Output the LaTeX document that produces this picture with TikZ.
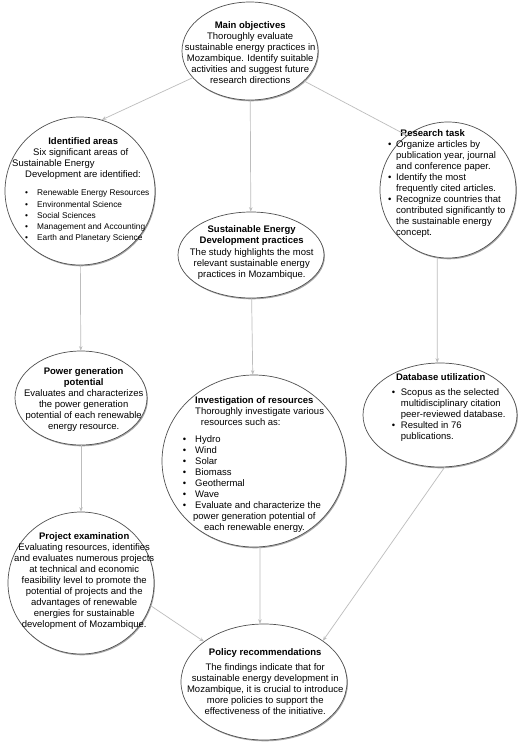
\documentclass[tikz,border=0pt]{standalone}
\usepackage{fontspec}
\setmainfont{Liberation Sans}
\usetikzlibrary{shapes.geometric,shadows,arrows.meta}
\newcommand\cln[1]{\makebox[\linewidth][c]{#1}\par}
\newcommand\lln[2][0pt]{\makebox[\linewidth][l]{\hspace*{#1}#2}\par}
\newcommand\bln[3]{\makebox[\linewidth][l]{\hspace*{#1}\makebox[#2][l]{\textbullet}#3}\par}
\definecolor{edgegray}{HTML}{BDBDBD}
\definecolor{rimgray}{HTML}{505050}
\tikzset{
 bub/.style={ellipse, draw=rimgray, line width=0.7pt, fill=white, inner sep=0pt,
   drop shadow={shadow xshift=0.9pt, shadow yshift=-1.3pt, fill=black, opacity=0.35}},
 txt/.style={inner sep=0pt, anchor=base west, font=\fontsize{9.5}{11}\selectfont},
 arr/.style={draw=edgegray, line width=0.7pt, -{Stealth[length=4.5pt,width=3.5pt]}},
}
\begin{document}
\begin{tikzpicture}[x=1pt,y=-1pt]
\fill[white] (0,0) rectangle (520,743);
\useasboundingbox (0,0) rectangle (520,743);

% bubbles
\node[bub, minimum width=136pt, minimum height=98pt] (mo) at (250,51) {};
\node[bub, minimum width=150pt, minimum height=148pt] (ida) at (80,191) {};
\node[bub, minimum width=136pt, minimum height=136pt] (rt) at (448,190) {};
\node[bub, minimum width=146pt, minimum height=86pt] (sed) at (251,255) {};
\node[bub, minimum width=132pt, minimum height=94pt] (pgp) at (81,398) {};
\node[bub, minimum width=184pt, minimum height=172pt] (inv) at (254,461) {};
\node[bub, minimum width=154pt, minimum height=104pt] (db) at (440,415) {};
\node[bub, minimum width=146pt, minimum height=142pt] (pe) at (81,583) {};
\node[bub, minimum width=166pt, minimum height=116pt] (pr) at (264,682) {};

% texts
\node[txt] (mo-t) at (175,28.5) {\begin{minipage}[t]{150pt}\centering
\textbf{Main objectives}\\
Thoroughly evaluate\\
sustainable energy practices in\\
Mozambique. Identify suitable\\
activities and suggest future\\
research directions\end{minipage}};

\node[txt] (ida-t) at (12,144.5) {\begin{minipage}[t]{142pt}
\cln{\textbf{Identified areas}}
\lln[21pt]{Six significant areas of}
\lln{Sustainable Energy}
\lln[13pt]{Development are identified:}
\vspace{7pt}
\fontsize{8.3}{11.3}\selectfont
\bln{13pt}{12pt}{Renewable Energy Resources}
\bln{13pt}{12pt}{Environmental Science}
\bln{13pt}{12pt}{Social Sciences}
\bln{13pt}{12pt}{Management and Accounting}
\bln{13pt}{12pt}{Earth and Planetary Science}
\end{minipage}};

\node[txt] (rt-t) at (388,136.3) {\begin{minipage}[t]{89pt}
\cln{\textbf{Research task}}
\bln{0pt}{8pt}{Organize articles by}
\lln[8pt]{publication year, journal}
\lln[8pt]{and conference paper.}
\bln{0pt}{8pt}{Identify the most}
\lln[8pt]{frequently cited articles.}
\bln{0pt}{8pt}{Recognize countries that}
\lln[8pt]{contributed significantly to}
\lln[8pt]{the sustainable energy}
\lln[8pt]{concept.}
\end{minipage}};

\node[txt] (sed-t) at (176.5,233) {\begin{minipage}[t]{150pt}\centering
\textbf{Sustainable Energy}\\
\textbf{Development practices}\\
The study highlights the most\\
relevant sustainable energy\\
practices in Mozambique.\end{minipage}};

\node[txt] (pgp-t) at (13.5,374) {\begin{minipage}[t]{140pt}\centering
\textbf{Power generation}\\
\textbf{potential}\\
Evaluates and characterizes\\
the power generation\\
potential of each renewable\\
energy resource.\end{minipage}};

\node[txt] (inv-t) at (182.7,403) {\begin{minipage}[t]{143pt}
\lln[12.3pt]{\textbf{Investigation of resources}}
\lln[12.3pt]{Thoroughly investigate various}
\lln[18pt]{resources such as:}
\vspace{6pt}
\bln{0pt}{12.3pt}{Hydro}
\bln{0pt}{12.3pt}{Wind}
\bln{0pt}{12.3pt}{Solar}
\bln{0pt}{12.3pt}{Biomass}
\bln{0pt}{12.3pt}{Geothermal}
\bln{0pt}{12.3pt}{Wave}
\bln{0pt}{12.3pt}{Evaluate and characterize the}
\cln{power generation potential of}
\cln{each renewable energy.}
\end{minipage}};

\node[txt] (db-t) at (391.7,380.5) {\begin{minipage}[t]{97.6pt}
\cln{\textbf{Database utilization}}
\vspace{3.5pt}
\bln{0pt}{9pt}{Scopus as the selected}
\lln[9pt]{multidisciplinary citation}
\lln[9pt]{peer-reviewed database.}
\bln{0pt}{9pt}{Resulted in 76}
\lln[9pt]{publications.}
\end{minipage}};

\node[txt] (pe-t) at (9,539) {\begin{minipage}[t]{150pt}\centering
\textbf{Project examination}\\
Evaluating resources, identifies\\
and evaluates numerous projects\\
at technical and economic\\
feasibility level to promote the\\
potential of projects and the\\
advantages of renewable\\
energies for sustainable\\
development of Mozambique.\end{minipage}};

\node[txt] (pr-t) at (180,655) {\begin{minipage}[t]{170pt}\centering
\textbf{Policy recommendations}\par
\vspace{4pt}
The findings indicate that for\\
sustainable energy development in\\
Mozambique, it is crucial to introduce\\
more policies to support the\\
effectiveness of the initiative.\end{minipage}};

% connectors
\draw[arr] (mo.205) -- (ida.73);
\draw[arr] (mo) -- (sed);
\draw[arr] (mo.331) -- (rt.127);
\draw[arr] (ida) -- (pgp);
\draw[arr] (sed) -- (inv);
\draw[arr] (rt.261) -- (db.93);
\draw[arr] (pgp) -- (pe);
\draw[arr] (inv.274) -- (pr.94);
\draw[arr] (pe.342) -- (pr.146);
\draw[arr] (db.275) -- (pr.35);
\end{tikzpicture}
\end{document}
